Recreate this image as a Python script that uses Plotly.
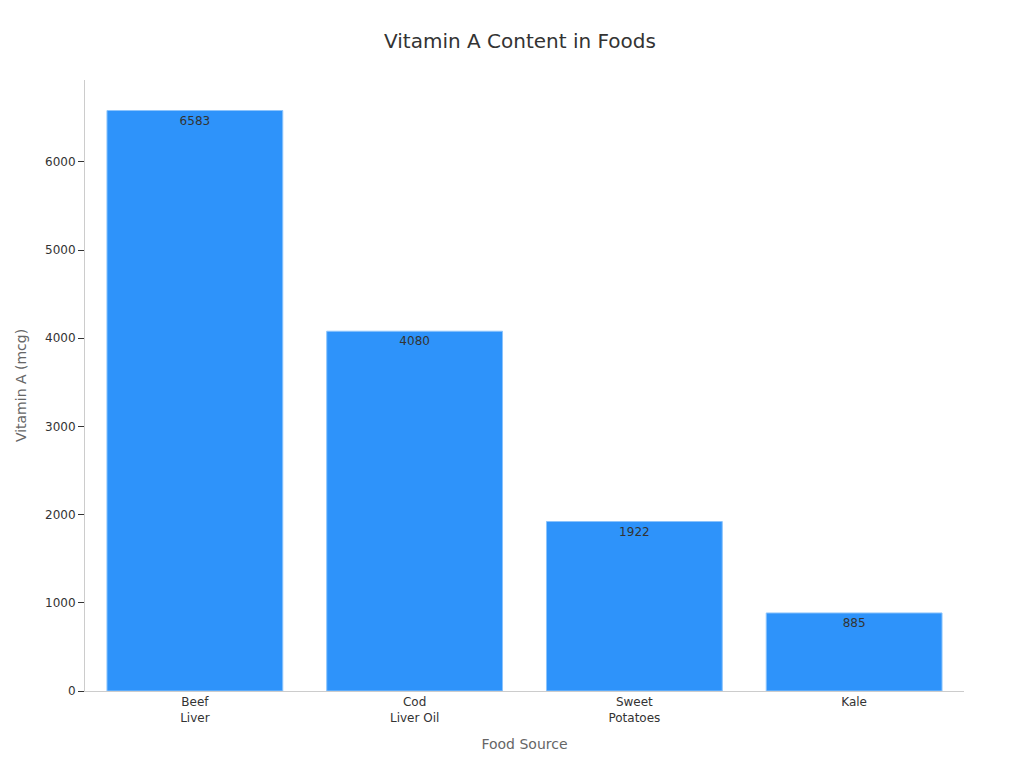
import plotly.graph_objects as go

categories = ["Beef<br>Liver", "Cod<br>Liver Oil", "Sweet<br>Potatoes", "Kale"]
values = [6583, 4080, 1922, 885]

fig = go.Figure(go.Bar(
    x=categories, y=values,
    text=[str(v) for v in values],
    textposition="inside", insidetextanchor="end",
    textfont=dict(color="#333333", size=12),
    marker=dict(color="#2E93FA", line=dict(color="#8CC4FC", width=1)),
))
fig.update_layout(
    width=1024, height=768,
    font=dict(family="DejaVu Sans", color="#333333", size=12),
    title=dict(text="Vitamin A Content in Foods", x=0.5, xanchor="center",
               y=0.957, yanchor="middle", yref="container",
               font=dict(size=20, color="#333333")),
    plot_bgcolor="white", paper_bgcolor="white",
    margin=dict(l=69, r=68, t=72, b=85),
    bargap=0.2,
    xaxis=dict(title=dict(text="Food Source", font=dict(size=14, color="#666666")),
               showline=True, linecolor="#cccccc", ticks="", tickfont=dict(size=12)),
    yaxis=dict(title=dict(text="Vitamin A (mcg)", font=dict(size=14, color="#666666")),
               range=[0, 6929], dtick=1000, showgrid=False, showline=True,
               linecolor="#cccccc", ticks="outside", ticklen=6, tickcolor="#333333",
               zeroline=False, tickfont=dict(size=12)),
    showlegend=False,
)
fig.write_html("out.html")
